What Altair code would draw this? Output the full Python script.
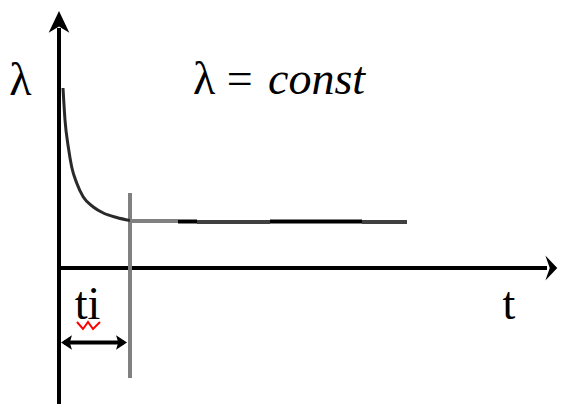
import altair as alt
import pandas as pd

# ---- data (t in schematic units, lambda in schematic units) ----
curve_t = [0.4, 0.6, 0.93, 1.27, 1.77, 2.43, 3.43, 4.43, 5.77, 7.1]
curve_lam = [18.0, 14.8, 12.1, 10.1, 8.5, 7.1, 6.1, 5.5, 5.05, 4.75]

flat_start = [7.1, 11.9, 13.8, 21.1, 30.3]
flat_end = [11.9, 13.8, 21.1, 30.3, 34.8]
flat_lam = [4.7, 4.65, 4.6, 4.65, 4.6]
flat_color = ["#808080", "#000000", "#404040", "#000000", "#404040"]

ti_value = 7.1
ti_line_lam = [7.5, -11.0]

yaxis_lam = [-13.6, 24.0]
xaxis_t = [0.0, 48.8]

span_lam = -7.45
span_t = [0.5, 6.5]

head_t = [0.93, 6.07]
head_angle = [180, 0]

squiggle_t = [1.8, 2.4, 2.9, 3.4, 4.1]
squiggle_lam = [-5.4, -6.1, -5.4, -6.1, -5.4]

label_text = ["λ", "λ =", "t", "ti"]
label_t = [-3.85, 13.4, 45.0, 2.85]
label_lam = [17.3, 17.4, -5.1, -5.1]
label_align = ["center", "left", "center", "center"]
italic_text = ["const"]
italic_t = [20.9]
italic_lam = [17.4]

xs = alt.Scale(domain=[-5.1, 49.9], nice=False, zero=False)
ys = alt.Scale(domain=[-13.6, 26.0], nice=False, zero=False)

def X(f):
    return alt.X(f, type="quantitative", scale=xs, axis=None)

def Y(f):
    return alt.Y(f, type="quantitative", scale=ys, axis=None)

curve_df = pd.DataFrame({"t": curve_t, "lam": curve_lam})
flat_df = pd.DataFrame({"t": flat_start, "t2": flat_end, "lam": flat_lam, "c": flat_color})
axes_df = pd.DataFrame({
    "t": [0.0, xaxis_t[0], ti_value, span_t[0]],
    "t2": [0.0, xaxis_t[1], ti_value, span_t[1]],
    "lam": [yaxis_lam[0], 0.0, ti_line_lam[0], span_lam],
    "lam2": [yaxis_lam[1], 0.0, ti_line_lam[1], span_lam],
    "c": ["#000000", "#000000", "#808080", "#000000"],
    "w": [4, 4, 4, 4],
})

curve = alt.Chart(curve_df).mark_line(interpolate="monotone", color="#2a2a2a", strokeWidth=3).encode(
    x=X("t"), y=Y("lam"))

flat = alt.Chart(flat_df).mark_rule(strokeWidth=4).encode(
    x=X("t"), x2="t2", y=Y("lam"), color=alt.Color("c:N", scale=None))

axes = alt.Chart(axes_df).mark_rule().encode(
    x=X("t"), x2="t2", y=Y("lam"), y2="lam2",
    color=alt.Color("c:N", scale=None), strokeWidth=alt.StrokeWidth("w:Q", scale=None))

yarrow = alt.Chart(pd.DataFrame({"t": [0.0], "lam": [24.55]})).mark_point(
    shape="M0,-1 L0.9,0.9 L0,0.35 L-0.9,0.9 Z", filled=True, color="#000000", opacity=1, size=529
).encode(x=X("t"), y=Y("lam"))

xarrow = alt.Chart(pd.DataFrame({"t": [49.2], "lam": [0.0]})).mark_point(
    shape="M0.5,0 L-0.45,-1 L-0.1,0 L-0.45,1 Z", filled=True, color="#000000", opacity=1, size=625
).encode(x=X("t"), y=Y("lam"))

heads = alt.Chart(pd.DataFrame({"t": head_t, "lam": [span_lam] * 2, "a": head_angle})).mark_point(
    shape="M1,0 L-0.5,-1 L-0.2,0 L-0.5,1 Z", filled=True, color="#000000", opacity=1, size=213
).encode(x=X("t"), y=Y("lam"), angle=alt.Angle("a:Q", scale=None))

squiggle = alt.Chart(pd.DataFrame({"t": squiggle_t, "lam": squiggle_lam})).mark_line(
    color="#ff0000", strokeWidth=2).encode(x=X("t"), y=Y("lam"))

labels_df = pd.DataFrame({"txt": label_text, "t": label_t, "lam": label_lam, "al": label_align})
labels_c = alt.Chart(labels_df[labels_df.al == "center"]).mark_text(
    font="Liberation Serif", fontSize=46, align="center", baseline="alphabetic", color="#000000"
).encode(x=X("t"), y=Y("lam"), text="txt:N")
labels_l = alt.Chart(labels_df[labels_df.al == "left"]).mark_text(
    font="Liberation Serif", fontSize=46, align="left", baseline="alphabetic", color="#000000"
).encode(x=X("t"), y=Y("lam"), text="txt:N")
italic = alt.Chart(pd.DataFrame({"txt": italic_text, "t": italic_t, "lam": italic_lam})).mark_text(
    font="Liberation Serif", fontSize=46, fontStyle="italic", align="left", baseline="alphabetic", color="#000000"
).encode(x=X("t"), y=Y("lam"), text="txt:N")

chart = alt.layer(axes, curve, flat, yarrow, xarrow, heads, squiggle, labels_c, labels_l, italic).properties(
    width=550, height=396, padding=0, autosize=alt.AutoSizeParams(type="none"), background="#ffffff"
).configure_view(stroke=None)

chart.save("out.html", embed_options={"renderer": "svg", "actions": False})
